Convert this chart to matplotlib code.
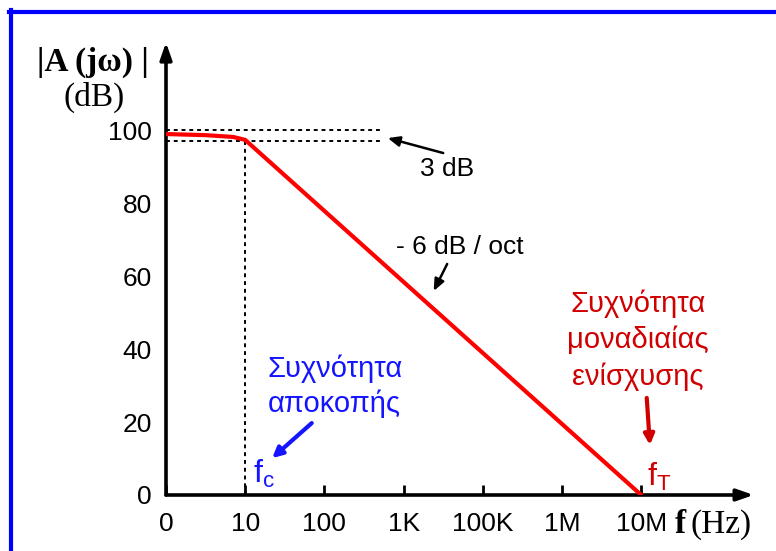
import matplotlib.pyplot as plt
from matplotlib.lines import Line2D

# frequency decades (placed evenly along the axis) and their labels
freq_labels = ['0', '10', '100', '1K', '100K', '1M', '10M']
gain_ticks = [0, 20, 40, 60, 80, 100]

# open-loop gain curve (x in decade positions, y in dB)
curve_x = [0, 0.5, 0.85, 1.0, 6.0]
curve_y = [98.9, 98.6, 98.1, 97.3, 0]

blue = '#1414ff'
dark_red = '#d00000'
sans = 'Liberation Sans'
serif = 'Liberation Serif'

fig = plt.figure(figsize=(7.76, 5.51), dpi=100)
ax = fig.add_axes([166 / 776, 56 / 551, 594 / 776, 456.2 / 551])
ax.set_xlim(0, 7.5)
ax.set_ylim(0, 125)
for s in ax.spines.values():
    s.set_visible(False)

# axes with arrow heads
head = '-|>,head_length=1.0,head_width=0.35'
ax.annotate('', xy=(7.42, 0), xytext=(0, 0), annotation_clip=False,
            arrowprops=dict(arrowstyle=head, lw=2.6, color='black', shrinkA=0, shrinkB=0))
ax.annotate('', xy=(0, 124), xytext=(0, 0), annotation_clip=False,
            arrowprops=dict(arrowstyle=head, lw=2.6, color='black', shrinkA=0, shrinkB=0))

ax.set_xticks(range(len(freq_labels)))
ax.set_xticklabels(freq_labels, fontsize=19, family=sans)
ax.tick_params(axis='x', direction='in', length=7.5, width=2, pad=12)
ax.set_yticks(gain_ticks)
ax.set_yticklabels([str(v) for v in gain_ticks], fontsize=19, family=sans)
ax.tick_params(axis='y', length=0, pad=10)

# dotted helper lines
ax.plot([0, 2.74], [100, 100], color='black', lw=1.4, ls=(0, (2, 2)))
ax.plot([0, 2.74], [97, 97], color='black', lw=1.4, ls=(0, (2, 2)))
ax.plot([1, 1], [0, 97.3], color='black', lw=1.4, ls=(0, (2, 2)))

ax.plot(curve_x, curve_y, color='#ff0000', lw=3, solid_capstyle='round', zorder=5)

# annotations
small_head = '-|>,head_length=0.7,head_width=0.3'
ax.text(3.55, 89.3, '3 dB', fontsize=19, family=sans, ha='center', va='center')
ax.annotate('', xy=(2.8, 97.8), xytext=(3.5, 93.7),
            arrowprops=dict(arrowstyle=small_head, color='black', lw=1.8,
                            shrinkA=0, shrinkB=0))
ax.text(3.71, 67.9, '- 6 dB / oct', fontsize=19, family=sans, ha='center', va='center')
ax.annotate('', xy=(3.38, 55.9), xytext=(3.55, 63.3),
            arrowprops=dict(arrowstyle=small_head, color='black', lw=1.8,
                            shrinkA=0, shrinkB=0))

ax.text(2.13, 29.8, 'Συχνότητα\nαποκοπής', fontsize=21, family=sans, color=blue,
        ha='center', va='center', linespacing=1.3)
ax.annotate('', xy=(1.34, 10.1), xytext=(1.84, 19.7),
            arrowprops=dict(arrowstyle='-|>,head_length=0.6,head_width=0.3',
                            color=blue, lw=3, shrinkA=0, shrinkB=0))
ax.text(1.1, 5.8, r'f$_\mathregular{c}$', fontsize=23, family=sans, color=blue,
        ha='left', va='center')

ax.text(5.96, 42.5, 'Συχνότητα\nμοναδιαίας\nενίσχυσης', fontsize=21, family=sans,
        color=dark_red, ha='center', va='center', linespacing=1.35)
ax.annotate('', xy=(6.11, 13.7), xytext=(6.07, 26.6),
            arrowprops=dict(arrowstyle='-|>,head_length=0.6,head_width=0.3',
                            color=dark_red, lw=3, shrinkA=0, shrinkB=0))
ax.text(6.07, 4.9, r'f$_\mathregular{T}$', fontsize=23, family=sans, color=dark_red,
        ha='left', va='center')

# axis titles
ax.text(-0.92, 118.6, '|A (jω) |', fontsize=24, family=serif, weight='bold',
        ha='center', va='center', clip_on=False)
ax.text(-0.91, 109, '(dB)', fontsize=24, family=serif, ha='center', va='center',
        clip_on=False)
ax.text(6.42, -8.2, 'f', fontsize=24, family=serif, weight='bold',
        ha='left', va='center', clip_on=False)
ax.text(6.62, -8.2, '(Hz)', fontsize=24, family=serif,
        ha='left', va='center', clip_on=False)

# blue frame (top and left)
fig.add_artist(Line2D([9 / 776, 1], [1 - 12 / 551] * 2, color='#0000ff', lw=3,
                      transform=fig.transFigure))
fig.add_artist(Line2D([11 / 776] * 2, [0, 1 - 10 / 551], color='#0000ff', lw=3,
                      transform=fig.transFigure))

fig.savefig('out.png', dpi=100)
